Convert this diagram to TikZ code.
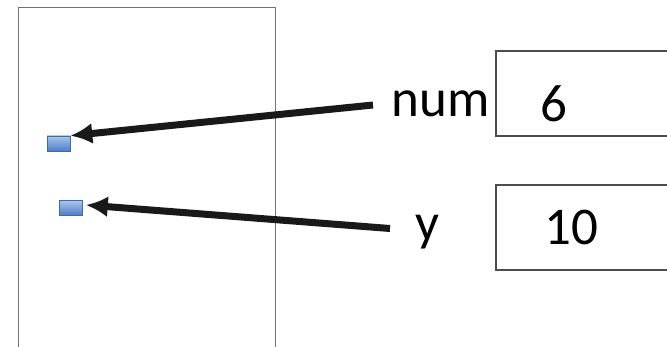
\documentclass[tikz,border=0pt]{standalone}
\usepackage{fontspec}
\setmainfont{Carlito}
\usetikzlibrary{arrows.meta}
\definecolor{celltop}{HTML}{A9C6EC}
\definecolor{cellbot}{HTML}{4A7DC2}
\definecolor{cellrim}{HTML}{3E6BA8}
\begin{document}
\begin{tikzpicture}[x=1pt,y=-1pt,
  frame/.style={draw=black!55,line width=1pt},
  valbox/.style={draw=black!70,line width=1.3pt},
  cell/.style={draw=cellrim,line width=0.6pt,top color=celltop,bottom color=cellbot,inner sep=0pt,minimum width=23pt,minimum height=15pt},
  lbl/.style={inner sep=0pt,font=\fontsize{53}{53}\selectfont,anchor=base},
  ptr/.style={line width=7pt,draw=black!90,-{Latex[length=22pt,width=21pt]}}]
\useasboundingbox (0,0) rectangle (667,347);
\begin{scope}
\clip (0,0) rectangle (667,347);
\draw[frame] (18,8) -- (275,8) -- (275,360) (18,360) -- (18,8);
\draw[valbox] (700,51) -- (496,51) -- (496,136) -- (700,136);
\draw[valbox] (700,185) -- (496,185) -- (496,270) -- (700,270);
\end{scope}
\node[cell] (a) at (58.5,143.5) {};
\node[cell] (b) at (71,208) {};
\node[lbl] (num) at (440.5,116.7) {num};
\node[lbl] (y) at (427.5,240.7) {y};
\node[lbl] (six) at (554,121.7) {6};
\node[lbl] (ten) at (571,245) {10};
\coordinate (s1) at (373,105);
\coordinate (s2) at (390,228.5);
\draw[ptr] (s1) -- (a.north east);
\draw[ptr] (s2) -- ([xshift=3pt,yshift=3pt]b.east);
\end{tikzpicture}
\end{document}
